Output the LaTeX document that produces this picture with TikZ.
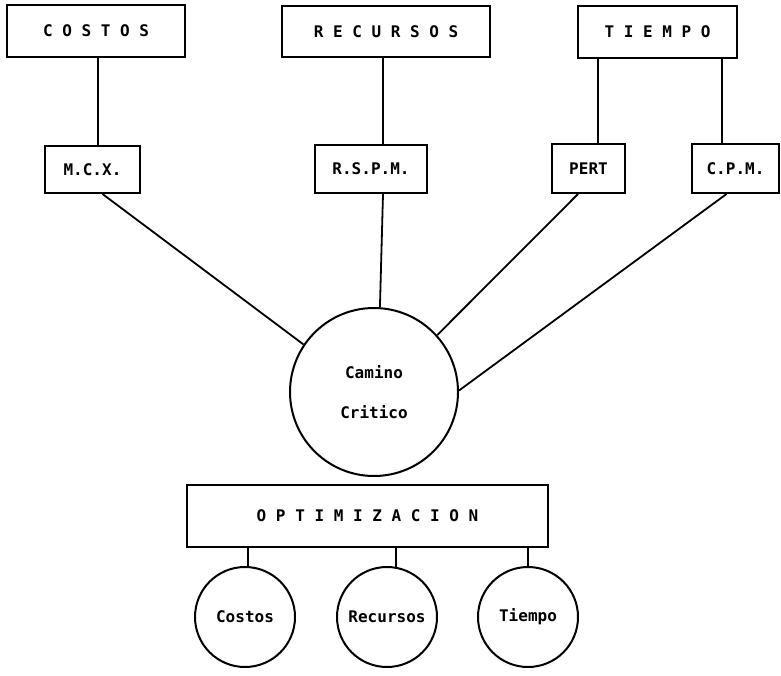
\documentclass[tikz,border=0pt]{standalone}
\usepackage{fontspec}
\setmonofont{DejaVu Sans Mono}
\begin{document}
\begin{tikzpicture}[x=1pt,y=-1pt, line width=2pt,
  box/.style={draw, rectangle, inner sep=0pt, font=\ttfamily\bfseries\fontsize{16}{19}\selectfont},
  ring/.style={draw, circle, inner sep=0pt, align=center, font=\ttfamily\bfseries\fontsize{16}{40}\selectfont},
  link/.style={line width=1.8pt}]
\useasboundingbox (0,0) rectangle (781,676);
% top level
\node[box, minimum width=178pt, minimum height=52pt] (costos) at (96,31) {C O S T O S};
\node[box, minimum width=208pt, minimum height=51pt] (recursos) at (386,31.5) {R E C U R S O S};
\node[box, minimum width=159pt, minimum height=52pt] (tiempo) at (657.5,32) {T I E M P O};
% methods
\node[box, minimum width=95pt, minimum height=47pt] (mcx) at (92.5,169.5) {M.C.X.};
\node[box, minimum width=112pt, minimum height=48pt] (rspm) at (371,169) {R.S.P.M.};
\node[box, minimum width=73pt, minimum height=49pt] (pert) at (588.5,168.5) {PERT};
\node[box, minimum width=87pt, minimum height=49pt] (cpm) at (735.5,168.5) {C.P.M.};
% critical path
\node[ring, minimum size=168pt] (cc) at (374,392) {Camino\\Critico};
% optimization
\node[box, minimum width=361pt, minimum height=62pt] (opt) at (367.5,516) {O P T I M I Z A C I O N};
\node[ring, minimum size=100pt] (c1) at (245,617) {Costos};
\node[ring, minimum size=100pt] (c2) at (387,617) {Recursos};
\node[ring, minimum size=100pt] (c3) at (528,617) {Tiempo};
% connectors top -> methods
\draw[link] ([xshift=2pt]costos.south) -- ([xshift=2pt]costos.south |- mcx.north);
\draw[link] ([xshift=-3pt]recursos.south) -- ([xshift=-3pt]recursos.south |- rspm.north);
\draw[link] ([xshift=9.5pt]pert.north) -- ([xshift=9.5pt]pert.north |- tiempo.south);
\draw[link] ([xshift=-13.5pt]cpm.north) -- ([xshift=-13.5pt]cpm.north |- tiempo.south);
% methods -> critical path
\draw[link] ([xshift=10pt]mcx.south) -- (cc.146);
\draw[link] ([xshift=12pt]rspm.south) -- (cc.86);
\draw[link] ([xshift=-10.5pt]pert.south) -- (cc.42);
\draw[link] ([xshift=-9pt]cpm.south) -- (cc.1);
% optimization -> circles
\draw[link] (c1.87) -- (c1.87 |- opt.south);
\draw[link] (c2.80) -- (c2.80 |- opt.south);
\draw[link] (c3.north) -- (c3.north |- opt.south);
\end{tikzpicture}
\end{document}
